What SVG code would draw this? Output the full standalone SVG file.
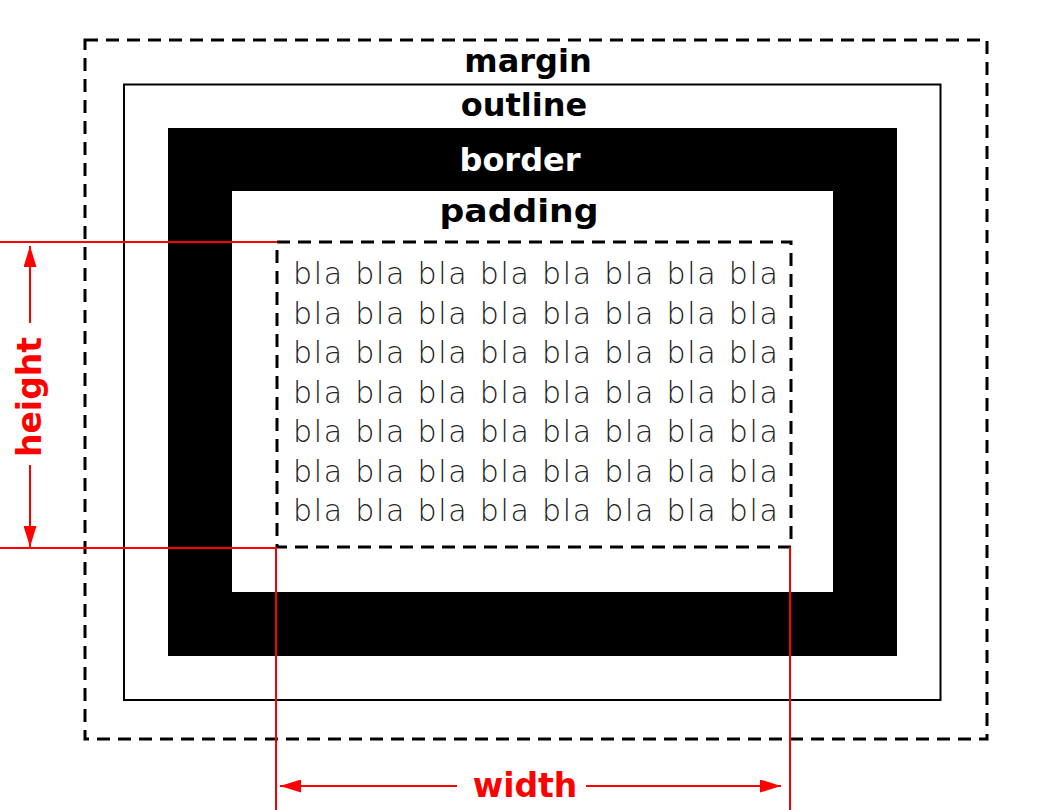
<svg xmlns="http://www.w3.org/2000/svg" width="1051" height="810" viewBox="0 0 1051 810">
<style>
.title{font-family:"DejaVu Sans","Liberation Sans",sans-serif;font-weight:700;font-size:32px;text-anchor:middle}
.bla{font-family:"DejaVu Sans","Liberation Sans",sans-serif;font-weight:200;font-size:30px;fill:#222}
.red{stroke:#f00;stroke-width:2;fill:none}
.lbl{font-family:"DejaVu Sans","Liberation Sans",sans-serif;font-weight:700;font-size:33px;fill:#f00;text-anchor:middle}
.dash{fill:none;stroke:#000;stroke-width:3;stroke-dasharray:13 8}
</style>
<defs>
<marker id="ah" viewBox="0 0 21 13" refX="21" refY="6.5" markerWidth="21" markerHeight="13" markerUnits="userSpaceOnUse" orient="auto">
<path d="M0,0 L21,6.5 L0,13 Z" fill="#f00"/>
</marker>
</defs>
<rect width="1051" height="810" fill="#fff"/>
<g id="margin">
<rect class="dash" x="85" y="40" width="902" height="699"/>
<text class="title" x="528" y="72">margin</text>
</g>
<g id="outline">
<rect x="124" y="84.5" width="816.5" height="615.5" fill="none" stroke="#000" stroke-width="2"/>
<text class="title" x="524" y="116">outline</text>
</g>
<g id="border">
<path d="M168,128 H897 V656 H168 Z M232,191 V592 H833 V191 Z" fill="#000" fill-rule="evenodd"/>
<text class="title" x="520" y="171" fill="#fff">border</text>
</g>
<g id="padding">
<text class="title" x="519" y="222" textLength="159" lengthAdjust="spacingAndGlyphs">padding</text>
</g>
<g id="content">
<rect class="dash" x="277" y="242" width="514" height="305"/>
<text class="bla" x="293" y="284" textLength="485" lengthAdjust="spacing">bla bla bla bla bla bla bla bla</text>
<text class="bla" x="293" y="323.5" textLength="485" lengthAdjust="spacing">bla bla bla bla bla bla bla bla</text>
<text class="bla" x="293" y="363" textLength="485" lengthAdjust="spacing">bla bla bla bla bla bla bla bla</text>
<text class="bla" x="293" y="402.5" textLength="485" lengthAdjust="spacing">bla bla bla bla bla bla bla bla</text>
<text class="bla" x="293" y="442" textLength="485" lengthAdjust="spacing">bla bla bla bla bla bla bla bla</text>
<text class="bla" x="293" y="481.5" textLength="485" lengthAdjust="spacing">bla bla bla bla bla bla bla bla</text>
<text class="bla" x="293" y="521" textLength="485" lengthAdjust="spacing">bla bla bla bla bla bla bla bla</text>
</g>
<g id="connectors">
<path class="red" d="M0,242 H277"/>
<path class="red" d="M0,548 H276 V810"/>
<path class="red" d="M790,547 V810"/>
<path class="red" d="M30,323 V246" marker-end="url(#ah)"/>
<path class="red" d="M30,465 V547" marker-end="url(#ah)"/>
<path class="red" d="M457,786 H280" marker-end="url(#ah)"/>
<path class="red" d="M586,786 H781" marker-end="url(#ah)"/>
</g>
<g id="labels">
<text class="lbl" x="525" y="797">width</text>
<text class="lbl" transform="translate(41,397) rotate(-90)" x="0" y="0">height</text>
</g>
</svg>
